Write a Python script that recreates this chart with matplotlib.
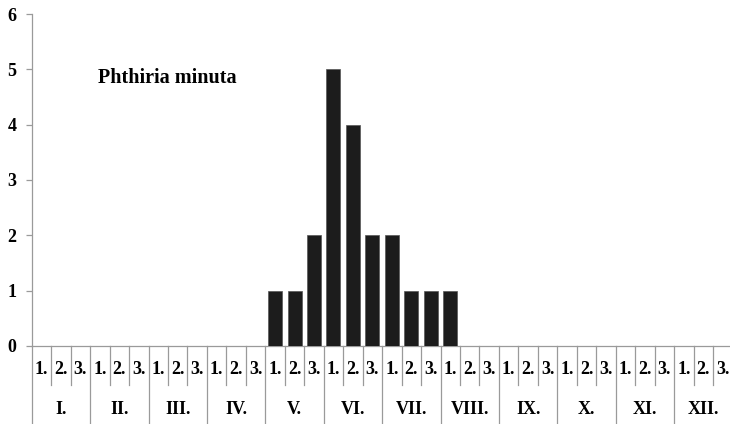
import matplotlib
matplotlib.use("Agg")
import matplotlib.pyplot as plt
import matplotlib.transforms as mtransforms
import numpy as np

months = ["I.", "II.", "III.", "IV.", "V.", "VI.", "VII.", "VIII.", "IX.", "X.", "XI.", "XII."]
decades = ["1.", "2.", "3."]
values = [0, 0, 0,  0, 0, 0,  0, 0, 0,  0, 0, 0,
          1, 1, 2,  5, 4, 2,  2, 1, 1,  1, 0, 0,
          0, 0, 0,  0, 0, 0,  0, 0, 0,  0, 0, 0]
yticks = [0, 1, 2, 3, 4, 5, 6]
title = "Phthiria minuta"

W, H = 730, 424
fig = plt.figure(figsize=(W / 100, H / 100), dpi=100)
left_px, right_px = 31.7, 732.6
top_px, zero_px = 14.0, 345.8
ax = fig.add_axes([left_px / W, 1 - zero_px / H, (right_px - left_px) / W, (zero_px - top_px) / H])

serif = ["Liberation Serif", "DejaVu Serif"]
grey = "#9a9a9a"

n = len(values)
x = np.arange(n) + 0.5
ax.bar(x, values, width=0.72, color="#1c1c1c", edgecolor="#555555", linewidth=0.5, zorder=3)

ax.set_xlim(0, n)
ax.set_ylim(0, 6)
ax.set_yticks(yticks)
ax.set_yticklabels([str(v) for v in yticks], fontfamily=serif, fontweight="bold", fontsize=13)
ax.set_xticks([])
for s in ["top", "right"]:
    ax.spines[s].set_visible(False)
ax.spines["left"].set_color(grey)
ax.spines["bottom"].set_color(grey)
ax.spines["left"].set_linewidth(0.9)
ax.spines["bottom"].set_linewidth(0.9)
ax.tick_params(axis="y", length=4, width=0.9, color=grey, pad=7)

# table-like category axis
tr = mtransforms.blended_transform_factory(ax.transData, fig.transFigure)
def fy(px):
    return 1 - px / H

for i in range(n + 1):
    if i % 3 == 0:
        ax.plot([i, i], [fy(zero_px), fy(H)], transform=tr, color=grey, lw=0.9, clip_on=False)
    else:
        ax.plot([i, i], [fy(zero_px), fy(385)], transform=tr, color=grey, lw=0.9, clip_on=False)

for i in range(n):
    ax.text(i + 0.5, fy(370), decades[i % 3], transform=tr, ha="center", va="center",
            fontfamily=serif, fontweight="bold", fontsize=13)
for m, name in enumerate(months):
    ax.text(3 * m + 1.5, fy(409), name, transform=tr, ha="center", va="center",
            fontfamily=serif, fontweight="bold", fontsize=13)

fig.text(98 / W, fy(78), title, ha="left", va="center",
         fontfamily=serif, fontweight="bold", fontsize=14.5)

fig.savefig("out.png", dpi=100)
